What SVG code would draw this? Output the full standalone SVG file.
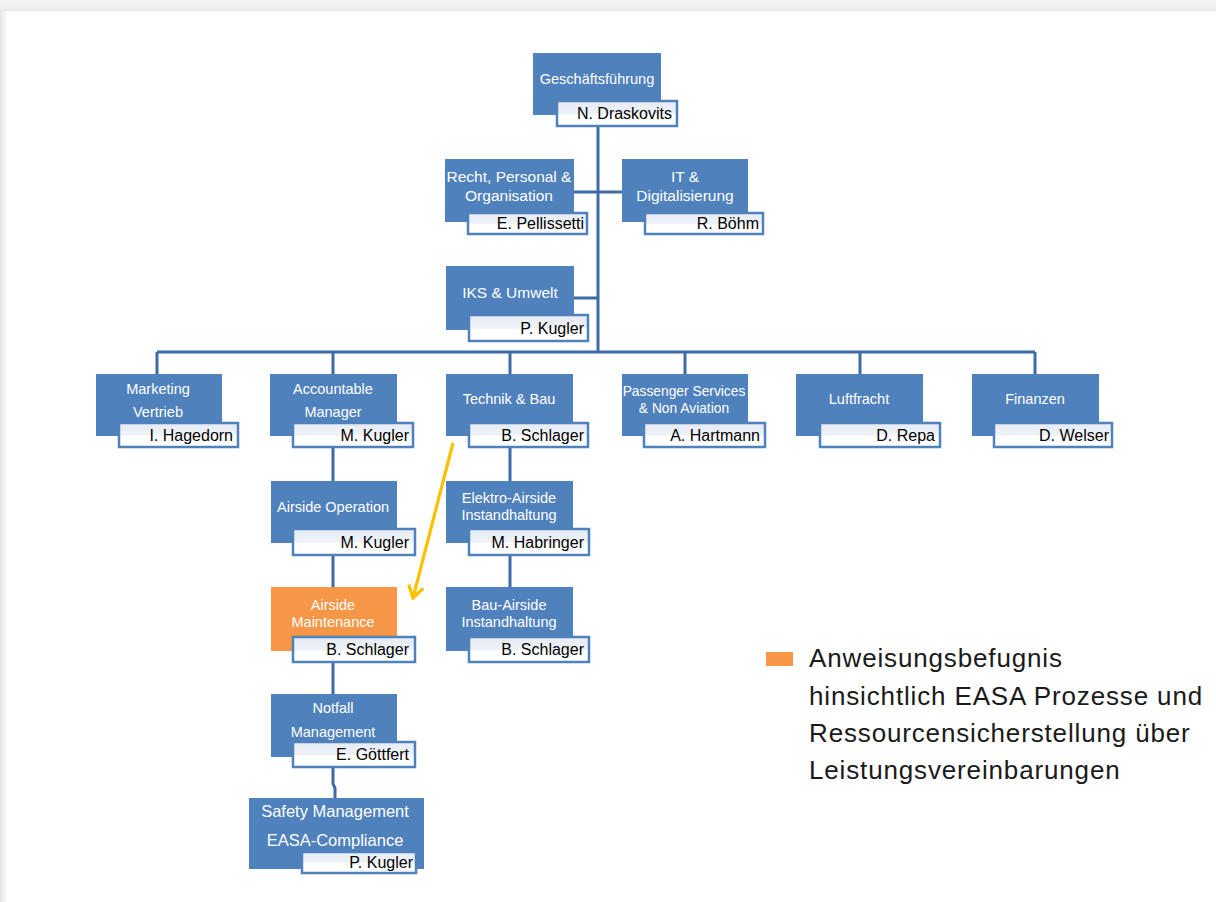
<svg xmlns="http://www.w3.org/2000/svg" width="1216" height="902" viewBox="0 0 1216 902">
<defs>
<linearGradient id="nmg" x1="0" y1="0" x2="0" y2="1">
<stop offset="0" stop-color="#E6ECF5"/>
<stop offset="0.5" stop-color="#EEF2F8"/>
<stop offset="0.55" stop-color="#FFFFFF"/>
<stop offset="1" stop-color="#FFFFFF"/>
</linearGradient>
<linearGradient id="lsh" x1="0" y1="0" x2="1" y2="0">
<stop offset="0" stop-color="#E4E4E4"/>
<stop offset="1" stop-color="#FFFFFF"/>
</linearGradient>
<linearGradient id="tsh" x1="0" y1="0" x2="0" y2="1">
<stop offset="0" stop-color="#F4F4F4"/>
<stop offset="0.8" stop-color="#EEEEEE"/>
<stop offset="1" stop-color="#E6E6E6"/>
</linearGradient>
<marker id="arr" markerUnits="userSpaceOnUse" markerWidth="18" markerHeight="18" viewBox="0 0 18 18" refX="16" refY="9" orient="auto">
<path d="M4,1.5 L16,9 L4,16.5" fill="none" stroke="#FFC000" stroke-width="3.2" stroke-linejoin="miter"/>
</marker>
</defs>
<style>
.bx{fill:#4F81BD;}
.or{fill:#F79646;}
.nm{fill:url(#nmg);stroke:#4F81BD;stroke-width:2.5;}
.t{font-family:"Liberation Sans",Arial,sans-serif;font-size:14.5px;fill:#FFFFFF;text-anchor:middle;}
.n{font-family:"Liberation Sans",Arial,sans-serif;font-size:16px;fill:#000000;text-anchor:end;}
.c{fill:none;stroke:#3C6BA6;stroke-width:3;}
.lg{font-family:"Liberation Sans",Arial,sans-serif;font-size:26px;letter-spacing:0.85px;fill:#1A1A1A;}
</style>
<rect x="0" y="0" width="1216" height="902" fill="#FFFFFF"/>
<rect x="0" y="0" width="1216" height="11" fill="url(#tsh)"/>
<rect x="0" y="11" width="8" height="891" fill="url(#lsh)"/>

<g id="connectors">
<path class="c" d="M598,126 V352"/>
<path class="c" d="M574,192 H622"/>
<path class="c" d="M574,298 H598"/>
<path class="c" d="M157,352 H1035"/>
<path class="c" d="M157,352 V374 M333,352 V374 M510,352 V374 M685,352 V374 M860,352 V374 M1035,352 V374"/>
<path class="c" d="M333,447 V481 M333,555 V587 M333,662 V694"/>
<path class="c" d="M333,767 V784 L335,788 V798"/>
<path class="c" d="M510,447 V481 M510,555 V587"/>
<path d="M453,443 L413,598" fill="none" stroke="#FFC000" stroke-width="3.2" marker-end="url(#arr)"/>
</g>

<g id="n-gf">
<rect class="bx" x="533" y="53" width="128" height="62"/>
<text class="t" x="597" y="84">Geschäftsführung</text>
<rect class="nm" x="557" y="101" width="120" height="25"/>
<text class="n" x="672" y="119">N. Draskovits</text>
</g>

<g id="n-recht">
<rect class="bx" x="445" y="159" width="129" height="63"/>
<text class="t" x="509" y="182" style="font-size:15.5px">Recht, Personal &amp;</text>
<text class="t" x="509" y="201" style="font-size:15.5px">Organisation</text>
<rect class="nm" x="468" y="213" width="119" height="21"/>
<text class="n" x="584" y="229">E. Pellissetti</text>
</g>

<g id="n-it">
<rect class="bx" x="622" y="159" width="126" height="63"/>
<text class="t" x="685" y="182" style="font-size:15.5px">IT &amp;</text>
<text class="t" x="685" y="201" style="font-size:15.5px">Digitalisierung</text>
<rect class="nm" x="645" y="213" width="118" height="21"/>
<text class="n" x="759" y="229">R. Böhm</text>
</g>

<g id="n-iks">
<rect class="bx" x="446" y="266" width="128" height="64"/>
<text class="t" x="510" y="298" style="font-size:15.5px">IKS &amp; Umwelt</text>
<rect class="nm" x="469" y="315" width="119" height="26"/>
<text class="n" x="584" y="334">P. Kugler</text>
</g>

<g id="n-marketing">
<rect class="bx" x="96" y="374" width="126" height="62"/>
<text class="t" x="158" y="394">Marketing</text>
<text class="t" x="158" y="417">Vertrieb</text>
<rect class="nm" x="119" y="423" width="119" height="24"/>
<text class="n" x="233" y="441">I. Hagedorn</text>
</g>

<g id="n-accountable">
<rect class="bx" x="270" y="374" width="127" height="62"/>
<text class="t" x="333" y="394">Accountable</text>
<text class="t" x="333" y="417">Manager</text>
<rect class="nm" x="293" y="423" width="120" height="24"/>
<text class="n" x="409" y="441">M. Kugler</text>
</g>

<g id="n-technik">
<rect class="bx" x="446" y="374" width="127" height="62"/>
<text class="t" x="509" y="404">Technik &amp; Bau</text>
<rect class="nm" x="469" y="423" width="119" height="24"/>
<text class="n" x="584" y="441">B. Schlager</text>
</g>

<g id="n-passenger">
<rect class="bx" x="622" y="374" width="126" height="62"/>
<text class="t" x="684" y="396" style="font-size:13.8px">Passenger Services</text>
<text class="t" x="684" y="413" style="font-size:13.8px">&amp; Non Aviation</text>
<rect class="nm" x="644" y="423" width="121" height="24"/>
<text class="n" x="760" y="441">A. Hartmann</text>
</g>

<g id="n-luftfracht">
<rect class="bx" x="796" y="374" width="127" height="62"/>
<text class="t" x="859" y="404">Luftfracht</text>
<rect class="nm" x="820" y="423" width="120" height="24"/>
<text class="n" x="935" y="441">D. Repa</text>
</g>

<g id="n-finanzen">
<rect class="bx" x="972" y="374" width="127" height="62"/>
<text class="t" x="1035" y="404">Finanzen</text>
<rect class="nm" x="994" y="423" width="118" height="24"/>
<text class="n" x="1109" y="441">D. Welser</text>
</g>

<g id="n-airside-op">
<rect class="bx" x="271" y="481" width="126" height="62"/>
<text class="t" x="333" y="512">Airside Operation</text>
<rect class="nm" x="293" y="529" width="122" height="26"/>
<text class="n" x="409" y="548">M. Kugler</text>
</g>

<g id="n-elektro">
<rect class="bx" x="446" y="481" width="127" height="62"/>
<text class="t" x="509" y="503">Elektro-Airside</text>
<text class="t" x="509" y="520">Instandhaltung</text>
<rect class="nm" x="469" y="529" width="120" height="26"/>
<text class="n" x="584" y="548">M. Habringer</text>
</g>

<g id="n-airside-maint">
<rect class="or" x="271" y="587" width="126" height="64"/>
<text class="t" x="333" y="610">Airside</text>
<text class="t" x="333" y="627">Maintenance</text>
<rect class="nm" x="293" y="637" width="122" height="25"/>
<text class="n" x="409" y="655">B. Schlager</text>
</g>

<g id="n-bau">
<rect class="bx" x="446" y="587" width="127" height="64"/>
<text class="t" x="509" y="610">Bau-Airside</text>
<text class="t" x="509" y="627">Instandhaltung</text>
<rect class="nm" x="469" y="637" width="120" height="25"/>
<text class="n" x="584" y="655">B. Schlager</text>
</g>

<g id="n-notfall">
<rect class="bx" x="271" y="694" width="126" height="63"/>
<text class="t" x="333" y="713">Notfall</text>
<text class="t" x="333" y="737">Management</text>
<rect class="nm" x="293" y="742" width="122" height="25"/>
<text class="n" x="409" y="760">E. Göttfert</text>
</g>

<g id="n-safety">
<rect class="bx" x="249" y="798" width="175" height="71"/>
<text class="t" x="335" y="817" style="font-size:16.5px">Safety Management</text>
<text class="t" x="335" y="846" style="font-size:16.5px">EASA-Compliance</text>
<rect class="nm" x="302" y="852" width="114" height="21"/>
<text class="n" x="413" y="868">P. Kugler</text>
</g>

<g id="legend">
<rect x="766" y="652" width="27" height="14" fill="#F79646"/>
<text class="lg" x="809" y="667">Anweisungsbefugnis</text>
<text class="lg" x="809" y="705">hinsichtlich EASA Prozesse und</text>
<text class="lg" x="809" y="742">Ressourcensicherstellung über</text>
<text class="lg" x="809" y="779">Leistungsvereinbarungen</text>
</g>
</svg>
